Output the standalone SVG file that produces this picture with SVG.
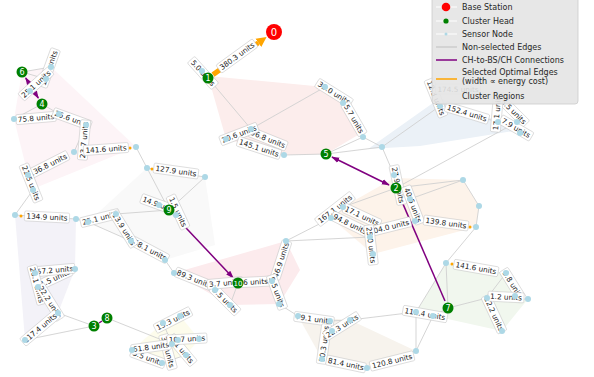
<svg xmlns="http://www.w3.org/2000/svg" width="594" height="377" viewBox="0 0 594 377">
<style>
.edge line{stroke:#d0d0d0;stroke-width:0.9}
.ch-link{stroke:#800080;stroke-width:1.5;fill:none}
.opt{stroke:#ffa500;stroke-width:5;fill:none}
.region{stroke:none}
.lbl rect{fill:#fff;stroke:#c0c0c0;stroke-width:0.5}
.lbl text{font-family:"DejaVu Sans",sans-serif;font-size:7.3px;fill:#222;text-anchor:middle}
.sn circle{fill:#add8e6}
.ch circle{fill:#008000}
.ch text,.bs text{font-family:"DejaVu Sans",sans-serif;fill:#fff;text-anchor:middle}
.ch text{font-size:8px}
.bs text{font-size:10px}
.om{fill:#ffa500}
.leg text{font-family:"DejaVu Sans",sans-serif;font-size:8px;fill:#262626}
</style>
<defs>
<marker id="ap" viewBox="0 0 10 10" refX="9" refY="5" markerWidth="8" markerHeight="8" markerUnits="userSpaceOnUse" orient="auto-start-reverse"><path d="M0,1.5 L10,5 L0,8.5 z" fill="#800080"/></marker>
<marker id="ao" viewBox="0 0 10 10" refX="0" refY="5" markerWidth="10" markerHeight="11" markerUnits="userSpaceOnUse" orient="auto"><path d="M0,0 L10,5 L0,10 z" fill="#ffa500"/></marker>
</defs>
<rect width="594" height="377" fill="#fff"/>

<g id="regions">
<polygon class="region" fill="#fcedec" points="208,76 325,87 343,103 358,135 326,154 284,155 226,139"/>
<polygon class="region" fill="#fdf4f7" points="22,72 51,67 136,147 35,188 28,175 14,119"/>
<polygon class="region" fill="#ebf1f7" points="368,149 440,98 520,130 420,146"/>
<polygon class="region" fill="#fdf3ea" points="343,207 394,178 463,180 479,206 476,227 373,254 331,218"/>
<polygon class="region" fill="#f9f9f9" points="88,222 147,168 205,177 215,245 165,260 131,241"/>
<polygon class="region" fill="#fcebed" points="174,273 286,241 300,270 279,304 230,305"/>
<polygon class="region" fill="#f3f2f8" points="15,215 76,219 75,269 58,313 25,340"/>
<polygon class="region" fill="#fdfcec" points="163,323 180,316 199,339 186,355 162,363 132,350"/>
<polygon class="region" fill="#f1f7ee" points="446,263 506,273 528,299 502,331 416,312"/>
<polygon class="region" fill="#f7f3ed" points="298,316 350,320 416,351 367,368 322,359"/>
</g>

<g id="connectors">
<g class="edge">
<line x1="208" y1="78" x2="202" y2="71"/>
<line x1="208" y1="78" x2="251" y2="129"/>
<line x1="251" y1="129" x2="325" y2="87"/>
<line x1="226" y1="139" x2="251" y2="129"/>
<line x1="251" y1="129" x2="284" y2="155"/>
<line x1="284" y1="155" x2="326" y2="154"/>
<line x1="325" y1="87" x2="343" y2="103"/>
<line x1="343" y1="103" x2="363" y2="137"/>
<line x1="326" y1="154" x2="363" y2="137"/>
<line x1="326" y1="154" x2="382" y2="147"/>
<line x1="363" y1="137" x2="382" y2="147"/>
<line x1="382" y1="147" x2="394" y2="175"/>
<line x1="382" y1="147" x2="440" y2="106"/>
<line x1="396" y1="188" x2="517" y2="122"/>
<line x1="440" y1="106" x2="498" y2="122"/>
<line x1="498" y1="122" x2="517" y2="122"/>
<line x1="517" y1="122" x2="520" y2="133"/>
<line x1="22" y1="72" x2="51" y2="67"/>
<line x1="22" y1="72" x2="46" y2="79"/>
<line x1="46" y1="79" x2="30" y2="91"/>
<line x1="42" y1="104" x2="14" y2="119"/>
<line x1="42" y1="104" x2="59" y2="114"/>
<line x1="59" y1="114" x2="86" y2="125"/>
<line x1="86" y1="125" x2="74" y2="152"/>
<line x1="136" y1="147" x2="147" y2="168"/>
<line x1="147" y1="168" x2="169" y2="210"/>
<line x1="147" y1="168" x2="205" y2="177"/>
<line x1="205" y1="177" x2="169" y2="210"/>
<line x1="28" y1="175" x2="33" y2="190"/>
<line x1="33" y1="190" x2="15" y2="215"/>
<line x1="15" y1="215" x2="76" y2="219"/>
<line x1="76" y1="219" x2="88" y2="222"/>
<line x1="88" y1="222" x2="116" y2="214"/>
<line x1="116" y1="214" x2="169" y2="210"/>
<line x1="88" y1="222" x2="131" y2="241"/>
<line x1="131" y1="241" x2="165" y2="260"/>
<line x1="165" y1="260" x2="174" y2="273"/>
<line x1="174" y1="273" x2="215" y2="290"/>
<line x1="169" y1="210" x2="159" y2="205"/>
<line x1="169" y1="210" x2="176" y2="215"/>
<line x1="215" y1="290" x2="238" y2="283"/>
<line x1="238" y1="283" x2="230" y2="305"/>
<line x1="238" y1="283" x2="272" y2="281"/>
<line x1="272" y1="281" x2="286" y2="241"/>
<line x1="272" y1="281" x2="279" y2="304"/>
<line x1="279" y1="304" x2="298" y2="316"/>
<line x1="298" y1="316" x2="330" y2="321"/>
<line x1="330" y1="321" x2="350" y2="320"/>
<line x1="330" y1="321" x2="332" y2="331"/>
<line x1="332" y1="331" x2="322" y2="359"/>
<line x1="322" y1="359" x2="367" y2="368"/>
<line x1="367" y1="368" x2="416" y2="351"/>
<line x1="416" y1="351" x2="416" y2="312"/>
<line x1="416" y1="351" x2="433" y2="316"/>
<line x1="350" y1="320" x2="416" y2="312"/>
<line x1="286" y1="241" x2="331" y2="218"/>
<line x1="286" y1="241" x2="370" y2="237"/>
<line x1="331" y1="218" x2="343" y2="207"/>
<line x1="343" y1="207" x2="396" y2="188"/>
<line x1="396" y1="188" x2="394" y2="175"/>
<line x1="396" y1="188" x2="410" y2="199"/>
<line x1="396" y1="188" x2="463" y2="180"/>
<line x1="410" y1="199" x2="463" y2="180"/>
<line x1="410" y1="199" x2="415" y2="221"/>
<line x1="415" y1="221" x2="370" y2="237"/>
<line x1="370" y1="237" x2="373" y2="254"/>
<line x1="463" y1="180" x2="479" y2="206"/>
<line x1="479" y1="206" x2="476" y2="227"/>
<line x1="476" y1="227" x2="446" y2="263"/>
<line x1="446" y1="263" x2="448" y2="308"/>
<line x1="446" y1="263" x2="416" y2="312"/>
<line x1="448" y1="308" x2="487" y2="298"/>
<line x1="448" y1="308" x2="433" y2="316"/>
<line x1="487" y1="298" x2="506" y2="273"/>
<line x1="487" y1="298" x2="515" y2="296"/>
<line x1="515" y1="296" x2="528" y2="299"/>
<line x1="487" y1="298" x2="502" y2="331"/>
<line x1="75" y1="269" x2="35" y2="273"/>
<line x1="35" y1="273" x2="38" y2="287"/>
<line x1="38" y1="287" x2="58" y2="313"/>
<line x1="58" y1="313" x2="94" y2="326"/>
<line x1="25" y1="340" x2="94" y2="326"/>
<line x1="107" y1="318" x2="172" y2="344"/>
<line x1="163" y1="323" x2="180" y2="316"/>
<line x1="163" y1="323" x2="172" y2="344"/>
<line x1="172" y1="344" x2="178" y2="340"/>
<line x1="178" y1="340" x2="199" y2="339"/>
<line x1="172" y1="344" x2="132" y2="350"/>
<line x1="172" y1="344" x2="186" y2="355"/>
<line x1="186" y1="355" x2="162" y2="363"/>
</g>
<line class="ch-link" x1="38.3" y1="98" x2="25.7" y2="78" marker-start="url(#ap)" marker-end="url(#ap)"/>
<line class="ch-link" x1="332" y1="157" x2="389" y2="185" marker-start="url(#ap)" marker-end="url(#ap)"/>
<line class="ch-link" x1="445" y1="301" x2="398.8" y2="194.4" marker-end="url(#ap)"/>
<line class="ch-link" x1="173.8" y1="215.1" x2="233.2" y2="277.9" marker-end="url(#ap)"/>
<line class="ch-link" x1="99" y1="323" x2="102" y2="321"/>
<line class="opt" x1="213" y1="74.6" x2="258.4" y2="42.8" marker-end="url(#ao)"/>
<circle class="om" cx="130" cy="148" r="1.5"/>
<circle class="om" cx="21" cy="216" r="1.5"/>
<circle class="om" cx="470" cy="227" r="1.5"/>
<circle class="om" cx="452" cy="264" r="1.5"/>
<circle class="om" cx="152" cy="169" r="1.5"/>
<circle class="om" cx="436" cy="89" r="1.5"/>
</g>

<g id="edge-labels">
<g class="lbl" transform="translate(237,56) rotate(-36)"><rect x="-22.5" y="-5" width="45" height="10" rx="1.5"/><text y="2.6">380.3 units</text></g>
<g class="lbl" transform="translate(203,73) rotate(48)"><rect x="-18" y="-5" width="36" height="10" rx="1.5"/><text y="2.6">5.0 units</text></g>
<g class="lbl" transform="translate(334,93) rotate(32)"><rect x="-20" y="-5" width="40" height="10" rx="1.5"/><text y="2.6">32.0 units</text></g>
<g class="lbl" transform="translate(354,119) rotate(60)"><rect x="-18" y="-5" width="36" height="10" rx="1.5"/><text y="2.6">5.7 units</text></g>
<g class="lbl" transform="translate(268,139) rotate(22)"><rect x="-20" y="-5" width="40" height="10" rx="1.5"/><text y="2.6">96.8 units</text></g>
<g class="lbl" transform="translate(239,134) rotate(-21)"><rect x="-20" y="-5" width="40" height="10" rx="1.5"/><text y="2.6">20.6 units</text></g>
<g class="lbl" transform="translate(259,148) rotate(18)"><rect x="-22.5" y="-5" width="45" height="10" rx="1.5"/><text y="2.6">145.1 units</text></g>
<g class="lbl" transform="translate(398,185) rotate(78)"><rect x="-20" y="-5" width="40" height="10" rx="1.5"/><text y="2.6">27.9 units</text></g>
<g class="lbl" transform="translate(413,205) rotate(69)"><rect x="-20" y="-5" width="40" height="10" rx="1.5"/><text y="2.6">40.6 units</text></g>
<g class="lbl" transform="translate(446,223) rotate(8)"><rect x="-22.5" y="-5" width="45" height="10" rx="1.5"/><text y="2.6">139.8 units</text></g>
<g class="lbl" transform="translate(335,209) rotate(-38)"><rect x="-22.5" y="-5" width="45" height="10" rx="1.5"/><text y="2.6">167.1 units</text></g>
<g class="lbl" transform="translate(362,216) rotate(25)"><rect x="-20" y="-5" width="40" height="10" rx="1.5"/><text y="2.6">17.1 units</text></g>
<g class="lbl" transform="translate(389,227) rotate(-14)"><rect x="-22.5" y="-5" width="45" height="10" rx="1.5"/><text y="2.6">104.0 units</text></g>
<g class="lbl" transform="translate(350,224) rotate(26)"><rect x="-20" y="-5" width="40" height="10" rx="1.5"/><text y="2.6">94.8 units</text></g>
<g class="lbl" transform="translate(371,245) rotate(83)"><rect x="-20" y="-5" width="40" height="10" rx="1.5"/><text y="2.6">25.0 units</text></g>
<g class="lbl" transform="translate(49,68) rotate(-70)"><rect x="-20" y="-5" width="40" height="10" rx="1.5"/><text y="2.6">15.6 units</text></g>
<g class="lbl" transform="translate(36,84) rotate(-42)"><rect x="-20" y="-5" width="40" height="10" rx="1.5"/><text y="2.6">25.1 units</text></g>
<g class="lbl" transform="translate(36,118) rotate(-5)"><rect x="-20" y="-5" width="40" height="10" rx="1.5"/><text y="2.6">75.8 units</text></g>
<g class="lbl" transform="translate(72,119) rotate(20)"><rect x="-20" y="-5" width="40" height="10" rx="1.5"/><text y="2.6">25.6 units</text></g>
<g class="lbl" transform="translate(84,140) rotate(-85)"><rect x="-20" y="-5" width="40" height="10" rx="1.5"/><text y="2.6">23.7 units</text></g>
<g class="lbl" transform="translate(48,165) rotate(-27)"><rect x="-22.5" y="-5" width="45" height="10" rx="1.5"/><text y="2.6">136.8 units</text></g>
<g class="lbl" transform="translate(106,149) rotate(-4)"><rect x="-22.5" y="-5" width="45" height="10" rx="1.5"/><text y="2.6">141.6 units</text></g>
<g class="lbl" transform="translate(31,183) rotate(68)"><rect x="-20" y="-5" width="40" height="10" rx="1.5"/><text y="2.6">21.5 units</text></g>
<g class="lbl" transform="translate(47,217) rotate(3)"><rect x="-22.5" y="-5" width="45" height="10" rx="1.5"/><text y="2.6">134.9 units</text></g>
<g class="lbl" transform="translate(176,171) rotate(8)"><rect x="-22.5" y="-5" width="45" height="10" rx="1.5"/><text y="2.6">127.9 units</text></g>
<g class="lbl" transform="translate(100,218) rotate(-14)"><rect x="-20" y="-5" width="40" height="10" rx="1.5"/><text y="2.6">25.1 units</text></g>
<g class="lbl" transform="translate(150,250) rotate(28)"><rect x="-20" y="-5" width="40" height="10" rx="1.5"/><text y="2.6">58.1 units</text></g>
<g class="lbl" transform="translate(124,229) rotate(58)"><rect x="-20" y="-5" width="40" height="10" rx="1.5"/><text y="2.6">13.9 units</text></g>
<g class="lbl" transform="translate(160,205) rotate(20)"><rect x="-20" y="-5" width="40" height="10" rx="1.5"/><text y="2.6">14.9 units</text></g>
<g class="lbl" transform="translate(178,212) rotate(65)"><rect x="-18" y="-5" width="36" height="10" rx="1.5"/><text y="2.6">1.5 units</text></g>
<g class="lbl" transform="translate(194,279) rotate(22)"><rect x="-20" y="-5" width="40" height="10" rx="1.5"/><text y="2.6">89.3 units</text></g>
<g class="lbl" transform="translate(225,300) rotate(45)"><rect x="-18" y="-5" width="36" height="10" rx="1.5"/><text y="2.6">3.5 units</text></g>
<g class="lbl" transform="translate(225,283) rotate(-5)"><rect x="-18" y="-5" width="36" height="10" rx="1.5"/><text y="2.6">3.7 units</text></g>
<g class="lbl" transform="translate(252,282) rotate(-3)"><rect x="-18" y="-5" width="36" height="10" rx="1.5"/><text y="2.6">6.6 units</text></g>
<g class="lbl" transform="translate(281,260) rotate(-72)"><rect x="-20" y="-5" width="40" height="10" rx="1.5"/><text y="2.6">46.9 units</text></g>
<g class="lbl" transform="translate(277,292) rotate(70)"><rect x="-18" y="-5" width="36" height="10" rx="1.5"/><text y="2.6">5.5 units</text></g>
<g class="lbl" transform="translate(314,319) rotate(8)"><rect x="-20" y="-5" width="40" height="10" rx="1.5"/><text y="2.6">79.1 units</text></g>
<g class="lbl" transform="translate(324,344) rotate(-82)"><rect x="-20" y="-5" width="40" height="10" rx="1.5"/><text y="2.6">10.3 units</text></g>
<g class="lbl" transform="translate(342,326) rotate(-32)"><rect x="-20" y="-5" width="40" height="10" rx="1.5"/><text y="2.6">22.3 units</text></g>
<g class="lbl" transform="translate(346,364) rotate(12)"><rect x="-20" y="-5" width="40" height="10" rx="1.5"/><text y="2.6">81.4 units</text></g>
<g class="lbl" transform="translate(392,361) rotate(-14)"><rect x="-22.5" y="-5" width="45" height="10" rx="1.5"/><text y="2.6">120.8 units</text></g>
<g class="lbl" transform="translate(425,314) rotate(10)"><rect x="-22.5" y="-5" width="45" height="10" rx="1.5"/><text y="2.6">111.4 units</text></g>
<g class="lbl" transform="translate(476,268) rotate(10)"><rect x="-22.5" y="-5" width="45" height="10" rx="1.5"/><text y="2.6">141.6 units</text></g>
<g class="lbl" transform="translate(513,285) rotate(58)"><rect x="-18" y="-5" width="36" height="10" rx="1.5"/><text y="2.6">9.8 units</text></g>
<g class="lbl" transform="translate(494,314) rotate(65)"><rect x="-20" y="-5" width="40" height="10" rx="1.5"/><text y="2.6">12.2 units</text></g>
<g class="lbl" transform="translate(506,297) rotate(3)"><rect x="-18" y="-5" width="36" height="10" rx="1.5"/><text y="2.6">1.2 units</text></g>
<g class="lbl" transform="translate(55,278) rotate(-25)"><rect x="-18" y="-5" width="36" height="10" rx="1.5"/><text y="2.6">1.5 units</text></g>
<g class="lbl" transform="translate(55,270) rotate(-5)"><rect x="-20" y="-5" width="40" height="10" rx="1.5"/><text y="2.6">57.2 units</text></g>
<g class="lbl" transform="translate(37,285) rotate(75)"><rect x="-20" y="-5" width="40" height="10" rx="1.5"/><text y="2.6">26.1 units</text></g>
<g class="lbl" transform="translate(50,302) rotate(58)"><rect x="-20" y="-5" width="40" height="10" rx="1.5"/><text y="2.6">22.2 units</text></g>
<g class="lbl" transform="translate(40,328) rotate(-40)"><rect x="-22.5" y="-5" width="45" height="10" rx="1.5"/><text y="2.6">117.4 units</text></g>
<g class="lbl" transform="translate(173,320) rotate(-27)"><rect x="-20" y="-5" width="40" height="10" rx="1.5"/><text y="2.6">15.3 units</text></g>
<g class="lbl" transform="translate(148,358) rotate(20)"><rect x="-18" y="-5" width="36" height="10" rx="1.5"/><text y="2.6">3.5 units</text></g>
<g class="lbl" transform="translate(182,350) rotate(50)"><rect x="-18" y="-5" width="36" height="10" rx="1.5"/><text y="2.6">4.1 units</text></g>
<g class="lbl" transform="translate(168,352) rotate(75)"><rect x="-18" y="-5" width="36" height="10" rx="1.5"/><text y="2.6">3.3 units</text></g>
<g class="lbl" transform="translate(151,347) rotate(-8)"><rect x="-20" y="-5" width="40" height="10" rx="1.5"/><text y="2.6">61.8 units</text></g>
<g class="lbl" transform="translate(187,339) rotate(-3)"><rect x="-20" y="-5" width="40" height="10" rx="1.5"/><text y="2.6">10.7 units</text></g>
<g class="lbl" transform="translate(436,98) rotate(68)"><rect x="-20" y="-5" width="40" height="10" rx="1.5"/><text y="2.6">12.3 units</text></g>
<g class="lbl" transform="translate(458,89) rotate(0)"><rect x="-22.5" y="-5" width="45" height="10" rx="1.5"/><text y="2.6">174.5 units</text></g>
<g class="lbl" transform="translate(467,113) rotate(17)"><rect x="-22.5" y="-5" width="45" height="10" rx="1.5"/><text y="2.6">152.4 units</text></g>
<g class="lbl" transform="translate(512,110) rotate(45)"><rect x="-20" y="-5" width="40" height="10" rx="1.5"/><text y="2.6">35.5 units</text></g>
<g class="lbl" transform="translate(497,112) rotate(-85)"><rect x="-20" y="-5" width="40" height="10" rx="1.5"/><text y="2.6">17.1 units</text></g>
<g class="lbl" transform="translate(516,128) rotate(30)"><rect x="-18" y="-5" width="36" height="10" rx="1.5"/><text y="2.6">7.9 units</text></g>
</g>

<g id="sensors" class="sn">
<g id="s01"><circle cx="202" cy="71" r="3"/></g>
<g id="s02"><circle cx="325" cy="87" r="3"/></g>
<g id="s03"><circle cx="343" cy="103" r="3"/></g>
<g id="s04"><circle cx="226" cy="139" r="3"/></g>
<g id="s05"><circle cx="251" cy="129" r="3"/></g>
<g id="s06"><circle cx="284" cy="155" r="3"/></g>
<g id="s07"><circle cx="363" cy="137" r="3"/></g>
<g id="s08"><circle cx="382" cy="147" r="3"/></g>
<g id="s09"><circle cx="51" cy="67" r="3"/></g>
<g id="s10"><circle cx="46" cy="79" r="3"/></g>
<g id="s11"><circle cx="30" cy="91" r="3"/></g>
<g id="s12"><circle cx="14" cy="119" r="3"/></g>
<g id="s13"><circle cx="59" cy="114" r="3"/></g>
<g id="s14"><circle cx="86" cy="125" r="3"/></g>
<g id="s15"><circle cx="74" cy="152" r="3"/></g>
<g id="s16"><circle cx="136" cy="147" r="3"/></g>
<g id="s17"><circle cx="147" cy="168" r="3"/></g>
<g id="s18"><circle cx="28" cy="175" r="3"/></g>
<g id="s19"><circle cx="33" cy="190" r="3"/></g>
<g id="s20"><circle cx="15" cy="215" r="3"/></g>
<g id="s21"><circle cx="76" cy="219" r="3"/></g>
<g id="s22"><circle cx="88" cy="222" r="3"/></g>
<g id="s23"><circle cx="116" cy="214" r="3"/></g>
<g id="s24"><circle cx="159" cy="205" r="3"/></g>
<g id="s25"><circle cx="176" cy="215" r="3"/></g>
<g id="s26"><circle cx="131" cy="241" r="3"/></g>
<g id="s27"><circle cx="205" cy="177" r="3"/></g>
<g id="s28"><circle cx="165" cy="260" r="3"/></g>
<g id="s29"><circle cx="174" cy="273" r="3"/></g>
<g id="s30"><circle cx="215" cy="290" r="3"/></g>
<g id="s31"><circle cx="230" cy="305" r="3"/></g>
<g id="s32"><circle cx="272" cy="281" r="3"/></g>
<g id="s33"><circle cx="279" cy="304" r="3"/></g>
<g id="s34"><circle cx="286" cy="241" r="3"/></g>
<g id="s35"><circle cx="394" cy="175" r="3"/></g>
<g id="s36"><circle cx="410" cy="199" r="3"/></g>
<g id="s37"><circle cx="415" cy="221" r="3"/></g>
<g id="s38"><circle cx="463" cy="180" r="3"/></g>
<g id="s39"><circle cx="479" cy="206" r="3"/></g>
<g id="s40"><circle cx="476" cy="227" r="3"/></g>
<g id="s41"><circle cx="343" cy="207" r="3"/></g>
<g id="s42"><circle cx="331" cy="218" r="3"/></g>
<g id="s43"><circle cx="370" cy="237" r="3"/></g>
<g id="s44"><circle cx="373" cy="254" r="3"/></g>
<g id="s45"><circle cx="440" cy="106" r="3"/></g>
<g id="s46"><circle cx="498" cy="122" r="3"/></g>
<g id="s47"><circle cx="517" cy="122" r="3"/></g>
<g id="s48"><circle cx="520" cy="133" r="3"/></g>
<g id="s49"><circle cx="446" cy="263" r="3"/></g>
<g id="s50"><circle cx="506" cy="273" r="3"/></g>
<g id="s51"><circle cx="487" cy="298" r="3"/></g>
<g id="s52"><circle cx="515" cy="296" r="3"/></g>
<g id="s53"><circle cx="528" cy="299" r="3"/></g>
<g id="s54"><circle cx="502" cy="331" r="3"/></g>
<g id="s55"><circle cx="433" cy="316" r="3"/></g>
<g id="s56"><circle cx="416" cy="312" r="3"/></g>
<g id="s57"><circle cx="416" cy="351" r="3"/></g>
<g id="s58"><circle cx="298" cy="316" r="3"/></g>
<g id="s59"><circle cx="330" cy="321" r="3"/></g>
<g id="s60"><circle cx="350" cy="320" r="3"/></g>
<g id="s61"><circle cx="332" cy="331" r="3"/></g>
<g id="s62"><circle cx="322" cy="359" r="3"/></g>
<g id="s63"><circle cx="367" cy="368" r="3"/></g>
<g id="s64"><circle cx="75" cy="269" r="3"/></g>
<g id="s65"><circle cx="35" cy="273" r="3"/></g>
<g id="s66"><circle cx="38" cy="287" r="3"/></g>
<g id="s67"><circle cx="58" cy="313" r="3"/></g>
<g id="s68"><circle cx="25" cy="340" r="3"/></g>
<g id="s69"><circle cx="163" cy="323" r="3"/></g>
<g id="s70"><circle cx="180" cy="316" r="3"/></g>
<g id="s71"><circle cx="178" cy="340" r="3"/></g>
<g id="s72"><circle cx="172" cy="344" r="3"/></g>
<g id="s73"><circle cx="199" cy="339" r="3"/></g>
<g id="s74"><circle cx="132" cy="350" r="3"/></g>
<g id="s75"><circle cx="186" cy="355" r="3"/></g>
<g id="s76"><circle cx="162" cy="363" r="3"/></g>
</g>

<g id="cluster-heads">
<g id="ch1" class="ch"><circle cx="208" cy="78" r="5.5"/><text x="208" y="81">1</text></g>
<g id="ch2" class="ch"><circle cx="396" cy="188" r="5.5"/><text x="396" y="191">2</text></g>
<g id="ch3" class="ch"><circle cx="94" cy="326" r="5.5"/><text x="94" y="329">3</text></g>
<g id="ch4" class="ch"><circle cx="42" cy="104" r="5.5"/><text x="42" y="107">4</text></g>
<g id="ch5" class="ch"><circle cx="326" cy="154" r="5.5"/><text x="326" y="157">5</text></g>
<g id="ch6" class="ch"><circle cx="22" cy="72" r="5.5"/><text x="22" y="75">6</text></g>
<g id="ch7" class="ch"><circle cx="448" cy="308" r="5.5"/><text x="448" y="311">7</text></g>
<g id="ch8" class="ch"><circle cx="107" cy="318" r="5.5"/><text x="107" y="321">8</text></g>
<g id="ch9" class="ch"><circle cx="169" cy="210" r="5.5"/><text x="169" y="213">9</text></g>
<g id="ch10" class="ch"><circle cx="238" cy="283" r="5.5"/><text x="238" y="286" style="font-size:7px">10</text></g>
</g>
<g id="n0" class="bs"><circle cx="274" cy="32" r="8" fill="#ff0000"/><text x="274" y="35.5">0</text></g>

<g id="legend" class="leg">
<rect x="432" y="-3" width="146" height="107" rx="3" fill="#e4e4e4" fill-opacity="0.9" stroke="#cccccc" stroke-width="0.8"/>
<line x1="436" y1="7" x2="457" y2="7" stroke="#fff" stroke-width="1"/>
<circle cx="446" cy="7" r="4.3" fill="#ff0000"/>
<text x="462" y="10">Base Station</text>
<line x1="436" y1="21" x2="457" y2="21" stroke="#fff" stroke-width="1"/>
<circle cx="446" cy="21" r="2.6" fill="#008000"/>
<text x="462" y="24">Cluster Head</text>
<line x1="436" y1="34" x2="457" y2="34" stroke="#fff" stroke-width="1"/>
<circle cx="446" cy="34" r="1.5" fill="#add8e6"/>
<text x="462" y="37">Sensor Node</text>
<line x1="436" y1="47" x2="457" y2="47" stroke="#cccccc" stroke-width="1.5"/>
<text x="462" y="50">Non-selected Edges</text>
<line x1="436" y1="60" x2="457" y2="60" stroke="#800080" stroke-width="1.5"/>
<text x="462" y="63">CH-to-BS/CH Connections</text>
<line x1="436" y1="79" x2="457" y2="79" stroke="#ffa500" stroke-width="1.5"/>
<text x="462" y="75">Selected Optimal Edges</text>
<text x="462" y="84">(width ∝ energy cost)</text>
<text x="462" y="99">Cluster Regions</text>
</g>
</svg>
